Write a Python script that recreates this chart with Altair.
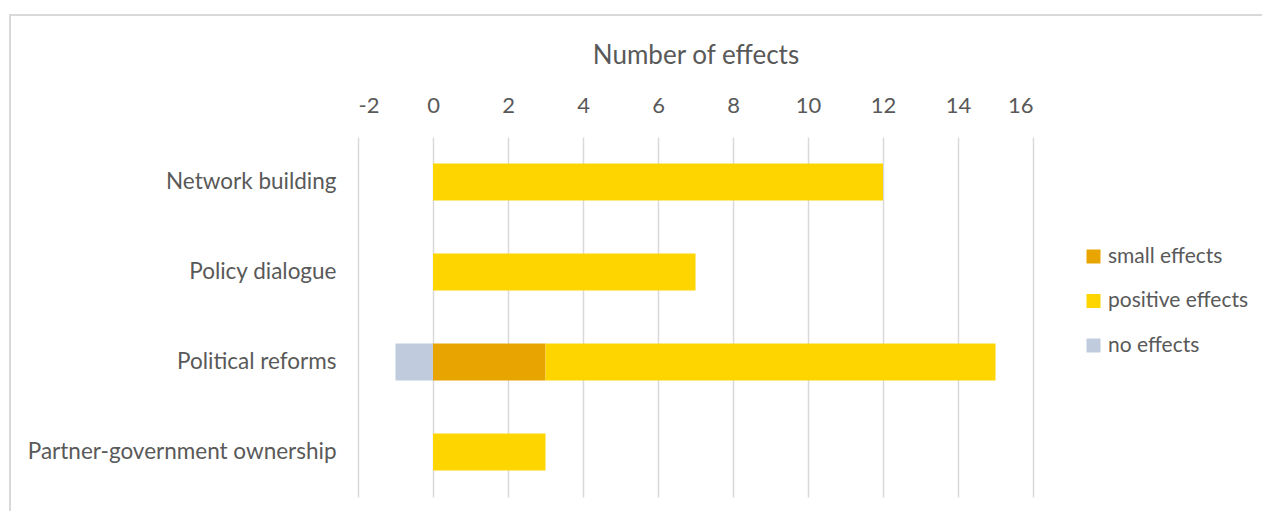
import altair as alt
import pandas as pd

categories = ["Network building", "Policy dialogue", "Political reforms", "Partner-government ownership"]
small_effects = [0, 0, 3, 0]
positive_effects = [12, 7, 12, 3]
no_effects = [0, 0, -1, 0]
series_names = ["small effects", "positive effects", "no effects"]
series_colors = ["#E8A400", "#FFD500", "#C0CCDD"]
tick_values = [-2, 0, 2, 4, 6, 8, 10, 12, 14, 16]

rows = []
for i, c in enumerate(categories):
    for s, vals, o in [("small effects", small_effects, 0), ("positive effects", positive_effects, 1), ("no effects", no_effects, 2)]:
        rows.append({"category": c, "series": s, "value": vals[i], "ord": o})
df = pd.DataFrame(rows)

FONT = "Lato"
TXT = "#595959"

bars = alt.Chart(df).mark_bar(size=37).encode(
    y=alt.Y("category:N", sort=categories,
            scale=alt.Scale(paddingInner=0.5, paddingOuter=0.25),
            axis=alt.Axis(title=None, domain=False, ticks=False, grid=False,
                          labelFontSize=22.5, labelColor=TXT, labelFont=FONT, labelPadding=22,
                          labelLimit=400)),
    x=alt.X("value:Q", stack="zero",
            scale=alt.Scale(domain=[-2, 16], nice=False),
            axis=alt.Axis(orient="top", title="Number of effects", values=tick_values,
                          labelExpr="'' + datum.value",
                          domain=False, ticks=False, grid=True, gridColor="#D9D9D9", gridWidth=1.5,
                          labelFontSize=22, labelColor=TXT, labelFont=FONT, labelPadding=20,
                          titleFontSize=26, titleColor=TXT, titleFont=FONT, titleFontWeight="normal",
                          titlePadding=26)),
    color=alt.Color("series:N", scale=alt.Scale(domain=series_names, range=series_colors),
                    legend=alt.Legend(title=None, orient="none", legendX=725, legendY=109,
                                      symbolType="square", symbolSize=196, symbolStrokeWidth=0,
                                      labelFontSize=21, labelColor=TXT, labelFont=FONT,
                                      rowPadding=22.5, labelOffset=4)),
    order=alt.Order("ord:Q"),
)

border = alt.Chart(pd.DataFrame({"a": [0]})).mark_rect(fill=None, stroke="#D9D9D9", strokeWidth=2).encode(
    x=alt.value(-348), x2=alt.value(930), y=alt.value(-122), y2=alt.value(400)
)

chart = alt.layer(border, bars).properties(
    width=675, height=360,
    autosize=alt.AutoSizeParams(type="none"),
    padding={"left": 350, "top": 129, "right": 229, "bottom": 14},
).configure_view(stroke=None)

chart.save("out.html", embed_options={"renderer": "svg", "actions": False})
